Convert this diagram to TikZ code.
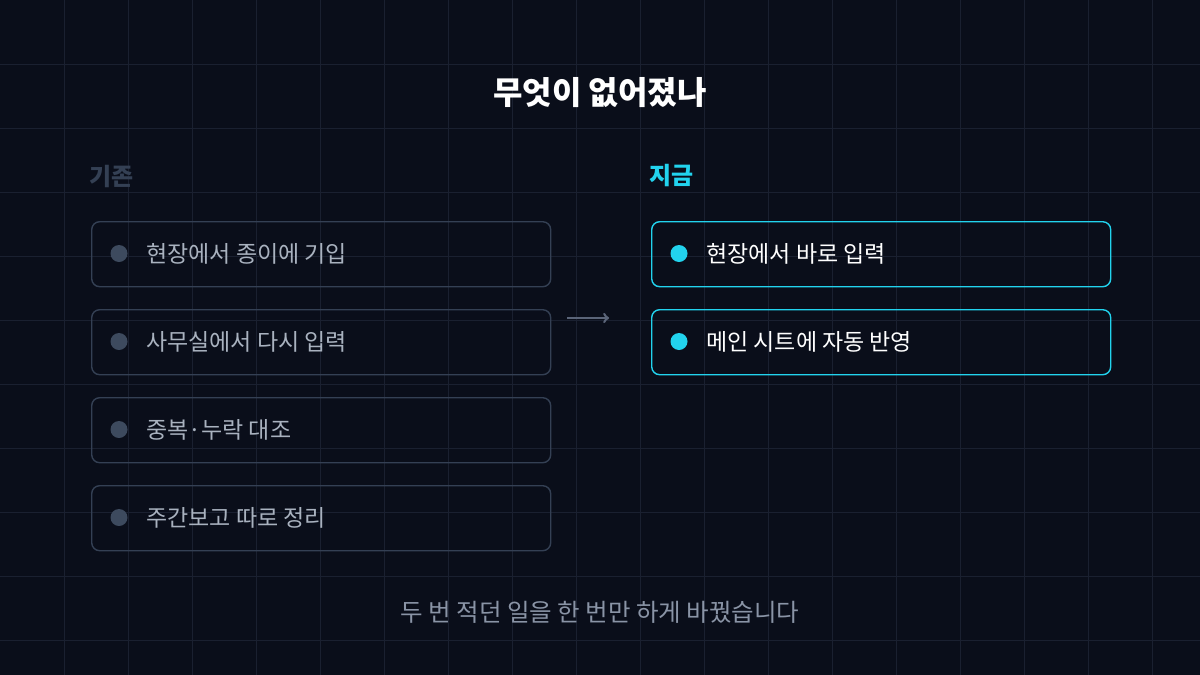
\documentclass[tikz,border=0pt]{standalone}
\usepackage{fontspec}
\setmainfont{Noto Sans CJK KR}
\usetikzlibrary{positioning}
\definecolor{bgc}{HTML}{0A0E1A}
\definecolor{gridc}{HTML}{1A2030}
\definecolor{oldc}{HTML}{344054}
\definecolor{dotc}{HTML}{3D4A5E}
\definecolor{oldtext}{HTML}{A9B2BF}
\definecolor{newc}{HTML}{22D3EE}
\definecolor{notec}{HTML}{8A94A6}
\definecolor{arrc}{HTML}{5A6478}
\tikzstyle{every node}=[font=\fontsize{23}{26}\selectfont]
\tikzstyle{oldbox} = [rectangle, draw=oldc, line width=1.4pt, rounded corners=8pt, minimum width=459pt, minimum height=65pt, anchor=north west]
\tikzstyle{newbox} = [oldbox, draw=newc]
\tikzstyle{olddot} = [circle, fill=dotc, inner sep=0pt, minimum size=17pt]
\tikzstyle{newdot} = [olddot, fill=newc]
\tikzstyle{head} = [anchor=west, font=\fontsize{24}{28}\selectfont\bfseries]
\begin{document}
\begin{tikzpicture}[x=1pt,y=-1pt]
    % Background and grid
    \fill [bgc] (0,0) rectangle (1200,675);
    \useasboundingbox (0,0) rectangle (1200,675);
    \foreach \gx in {64,128,...,1152} \draw [gridc, line width=1pt] (\gx,0) -- (\gx,675);
    \foreach \gy in {64,128,...,640} \draw [gridc, line width=1pt] (0,\gy) -- (1200,\gy);
    % Title and headings
    \node [font=\fontsize{32}{36}\selectfont\bfseries, text=white] (title) at (600,93) {무엇이 없어졌나};
    \node [head, text=oldc] (oldhead) at (86,176) {기존};
    \node [head, text=newc] (newhead) at (646,176) {지금};
    % Old way
    \foreach \i/\txt in {0/현장에서 종이에 기입, 1/사무실에서 다시 입력, 2/중복·누락 대조, 3/주간보고 따로 정리} {
        \node [oldbox] (old\i) at (91,{221+88*\i}) {};
        \node [olddot] (olddot\i) at (119,{253.5+88*\i}) {};
        \node [anchor=west, text=oldtext, right=15pt of olddot\i] (oldtxt\i) {\txt};
    }
    % New way
    \foreach \i/\txt in {0/현장에서 바로 입력, 1/메인 시트에 자동 반영} {
        \node [newbox] (new\i) at (651,{221+88*\i}) {};
        \node [newdot] (newdot\i) at (679,{253.5+88*\i}) {};
        \node [anchor=west, text=white, right=15pt of newdot\i] (newtxt\i) {\txt};
    }
    % Arrow
    \coordinate (arrs) at (567,318);
    \coordinate (arre) at (609,318);
    \draw [->, arrc, line width=2.5pt] (arrs) -- (arre);
    % Note
    \node [text=notec, font=\fontsize{24.5}{28}\selectfont] (note) at (600,612) {두 번 적던 일을 한 번만 하게 바꿨습니다};
\end{tikzpicture}
\end{document}
